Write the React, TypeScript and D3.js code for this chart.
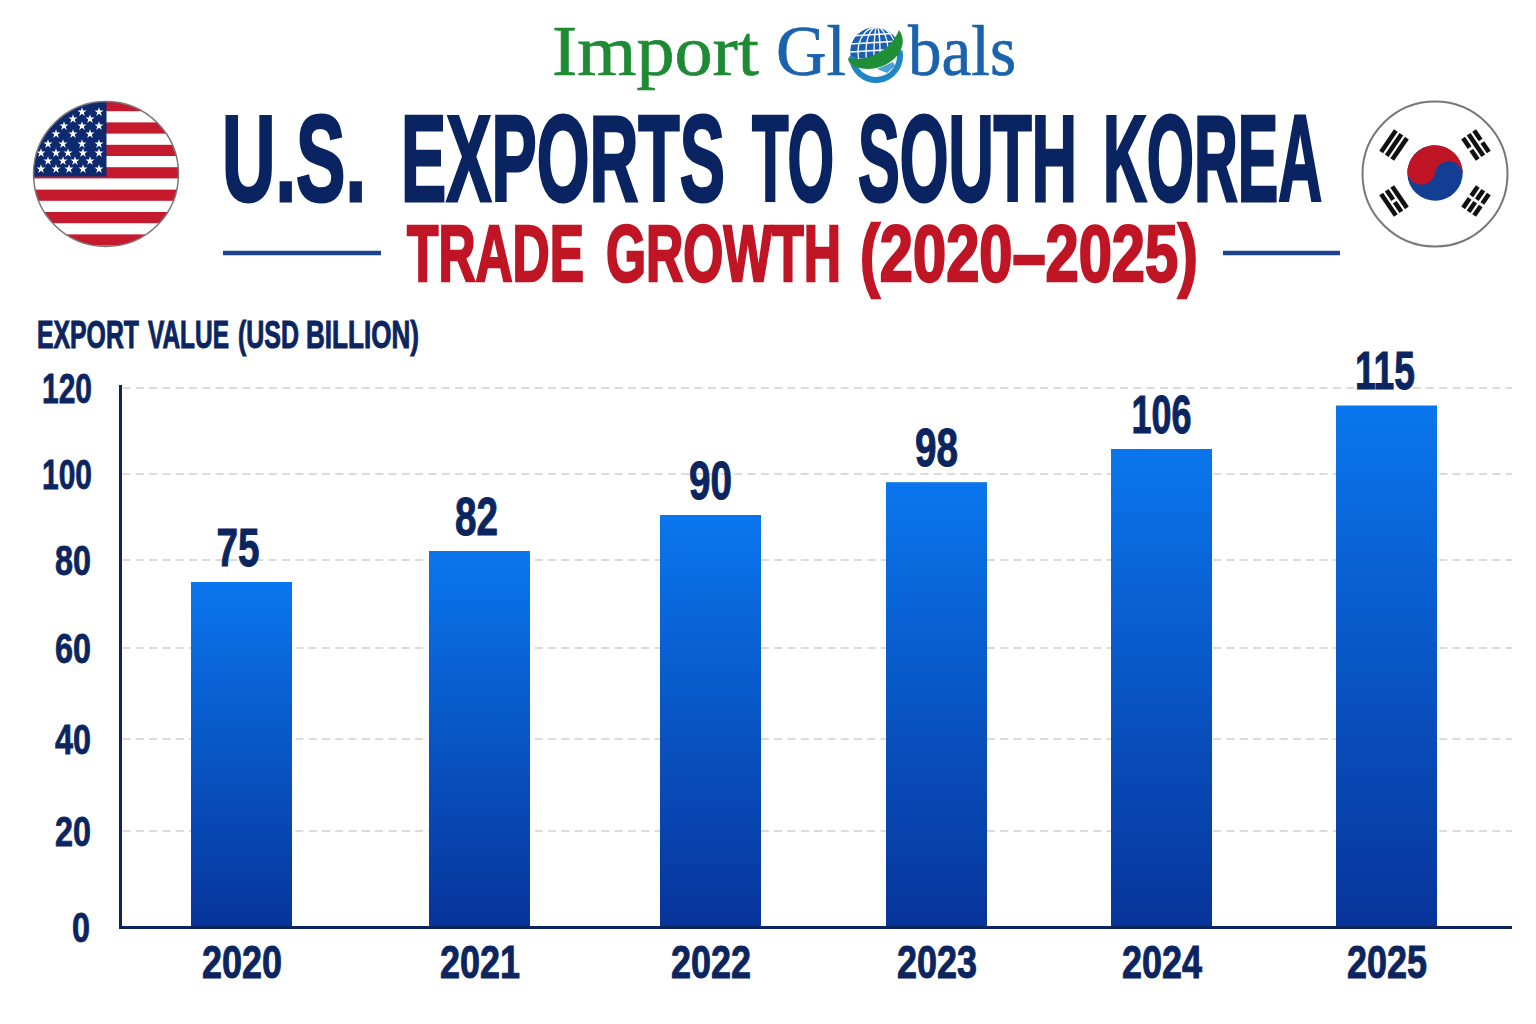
import { useEffect, useRef } from "react";
import * as d3 from "d3";

const years = ["2020", "2021", "2022", "2023", "2024", "2025"];
const exportValues = [75, 82, 90, 98, 106, 115];
const yTicks = [0, 20, 40, 60, 80, 100, 120];

// the picture's axis is uneven, so the scale goes through its measured rows
const scaleValues = [0, 20, 40, 60, 80, 90, 100, 106, 115, 120];
const scaleRows = [926.5, 831, 739, 648, 560, 515, 474, 449, 405.5, 388];
const barCenters = [241.5, 479.5, 710.5, 936.5, 1161.5, 1386.5];
const labelNudge = [-3.5, -3, 0, 0, 0, -1.5];

const titleWords: [string, number, number][] = [
  ["U.S.", 222, 144], ["EXPORTS", 401, 324], ["TO", 752, 82], ["SOUTH", 858, 219], ["KOREA", 1103, 219],
];
const subtitleWords: [string, number, number][] = [
  ["TRADE", 407, 177], ["GROWTH", 606, 235], ["(2020–2025)", 860, 338],
];
const axisTitleWords: [string, number, number][] = [
  ["EXPORT", 37, 102], ["VALUE", 148, 81], ["(USD", 238, 61], ["BILLION)", 306, 113],
];

const NAVY = "#0b2560";
const RED = "#bf1525";
const CONDENSED = "'Liberation Sans Narrow', 'Liberation Sans', Roboto, sans-serif";

type Sel = d3.Selection<SVGGElement, unknown, null, undefined>;

// text scaled to the width measured on the reference, stroke fattens the stems
function fitted(g: Sel, s: string, x: number, y: number, size: number, width: number, fill: string, anchor = "middle", fat = 0.8) {
  const t = g.append("text")
    .attr("font-family", CONDENSED).attr("font-weight", 700)
    .attr("font-size", size).attr("fill", fill)
    .attr("stroke", fill).attr("stroke-width", fat)
    .text(s);
  const natural = (t.node() as SVGTextElement).getComputedTextLength();
  const start = anchor === "middle" ? x - width / 2 : anchor === "end" ? x - width : x;
  t.attr("transform", `translate(${start},${y}) scale(${width / natural},1)`);
  return t;
}

function drawUsFlag(g: Sel, defs: d3.Selection<SVGDefsElement, unknown, null, undefined>) {
  const cx = 106, cy = 174, r = 72.5;
  defs.append("clipPath").attr("id", "usClip").append("circle").attr("cx", cx).attr("cy", cy).attr("r", r);
  const f = g.append("g").attr("clip-path", "url(#usClip)");
  f.append("rect").attr("x", cx - r).attr("y", cy - r).attr("width", 2 * r).attr("height", 2 * r).attr("fill", "#fff");
  d3.range(0, 13, 2).forEach((i) => {
    f.append("rect").attr("x", cx - r).attr("y", 100 + i * 11.2).attr("width", 2 * r).attr("height", 11.2).attr("fill", "#c5192d");
  });
  f.append("rect").attr("x", cx - r).attr("y", cy - r).attr("width", 73).attr("height", 75).attr("fill", "#0d2a6e");
  const star = d3.symbol().type(d3.symbolStar).size(26)();
  const stars: [number, number[]][] = [
    [112, [82, 99]],
    [119, [73, 90]],
    [126, [64, 82, 99]],
    [134, [56, 73, 90]],
    [144, [48, 63, 82, 99]],
    [153, [41, 56, 68, 83, 99]],
    [161, [48, 63, 75, 90]],
    [169, [41, 56, 69, 83, 99]],
  ];
  stars.forEach(([y, row]) => {
    row.forEach((x) => {
      f.append("path").attr("d", star).attr("fill", "#fff").attr("transform", `translate(${x},${y})`);
    });
  });
  g.append("circle").attr("cx", cx).attr("cy", cy).attr("r", r).attr("fill", "none").attr("stroke", "#777").attr("stroke-width", 1.5);
}

function drawKrFlag(g: Sel) {
  const cx = 1435, cy = 174, r = 72.5;
  g.append("circle").attr("cx", cx).attr("cy", cy).attr("r", r).attr("fill", "#fff").attr("stroke", "#777").attr("stroke-width", 2);
  const t = g.append("g").attr("transform", `translate(${cx},${cy - 1}) rotate(9)`);
  const R = 27.7;
  t.append("circle").attr("r", R).attr("fill", "#123f93");
  t.append("path").attr("fill", RED)
    .attr("d", `M${-R},0 A${R},${R} 0 0 1 ${R},0 A${R / 2},${R / 2} 0 0 0 0,0 A${R / 2},${R / 2} 0 0 1 ${-R},0 Z`);
  // trigrams: 3 bars each, split ones get a white gap
  const trigrams: [number, boolean[]][] = [
    [-55.7, [false, false, false]],
    [55.7, [true, false, true]],
    [124.3, [true, true, true]],
    [-124.3, [false, true, false]],
  ];
  trigrams.forEach(([angle, split]) => {
    const tg = g.append("g").attr("transform", `translate(${cx},${cy - 1}) rotate(${angle})`);
    split.forEach((s, i) => {
      const y = -58.6 + i * 6.7;
      tg.append("rect").attr("x", -13).attr("y", y).attr("width", 26).attr("height", 4.6).attr("fill", "#111");
      if (s) tg.append("rect").attr("x", -1.5).attr("y", y - 0.5).attr("width", 3).attr("height", 5.6).attr("fill", "#fff");
    });
  });
}

function drawLogo(g: Sel, defs: d3.Selection<SVGDefsElement, unknown, null, undefined>) {
  const serif = "'Liberation Serif', 'DejaVu Serif', serif";
  const word = (s: string, x: number, width: number, fill: string) => {
    const t = g.append("text").attr("font-family", serif).attr("font-size", 72)
      .attr("fill", fill).attr("stroke", fill).attr("stroke-width", 0.7).text(s);
    const natural = (t.node() as SVGTextElement).getComputedTextLength();
    t.attr("transform", `translate(${x},75) scale(${width / natural},1)`);
  };
  word("Import", 552, 207, "#1e8a34");
  word("Gl", 776, 70, "#1a62ad");
  word("bals", 908, 108, "#1a62ad");

  const cx = 875, cy = 52, r = 25;

  // globe with its grid
  defs.append("clipPath").attr("id", "globeClip").append("circle").attr("cx", cx).attr("cy", cy).attr("r", r);
  const globe = g.append("g").attr("clip-path", "url(#globeClip)");
  globe.append("circle").attr("cx", cx).attr("cy", cy).attr("r", r).attr("fill", "#1a5fb0");
  d3.range(-16, 20, 8).forEach((d) => {
    globe.append("line").attr("x1", cx - r).attr("x2", cx + r).attr("y1", cy + d).attr("y2", cy + d - 3).attr("stroke", "#fff").attr("stroke-width", 1.5);
  });
  [3, 11, 19].forEach((rx) => {
    globe.append("ellipse").attr("cx", cx + 2).attr("cy", cy).attr("rx", rx).attr("ry", r).attr("fill", "none").attr("stroke", "#fff").attr("stroke-width", 1.3);
  });
  // pale lower part under the swoosh
  g.append("path").attr("fill", "#fff")
    .attr("d", `M${cx - 24},${cy + 10} C${cx - 8},${cy + 16} ${cx + 12},${cy + 6} ${cx + 26},${cy - 6} L${cx + 26},${cy + 26} L${cx - 24},${cy + 26} Z`);
  // lower ring and a bit of land inside it
  const ring = d3.arc()({ innerRadius: 21, outerRadius: 27, startAngle: 1.35, endAngle: 4.7 });
  g.append("path").attr("d", ring).attr("transform", `translate(${cx + 1},${cy + 4})`).attr("fill", "#1f86c6");
  g.append("path").attr("fill", "#4aa3d8")
    .attr("d", `M${cx + 2},${cy + 17} L${cx + 18},${cy + 10} L${cx + 20},${cy + 14} L${cx + 12},${cy + 21} Z`);
  // swoosh
  g.append("path").attr("fill", "#1f8f36")
    .attr("d", `M${cx - 27},${cy + 6} C${cx - 12},${cy + 10} ${cx + 14},${cy + 2} ${cx + 24},${cy - 22} C${cx + 36},${cy - 6} ${cx + 18},${cy + 16} ${cx - 6},${cy + 17} C${cx - 18},${cy + 17} ${cx - 27},${cy + 13} ${cx - 27},${cy + 6} Z`);
}

export default function App() {
  const ref = useRef<SVGSVGElement>(null);

  useEffect(() => {
    const svg = d3.select(ref.current!);
    svg.selectAll("*").remove();
    const defs = svg.append("defs");
    const grad = defs.append("linearGradient").attr("id", "barFill").attr("x1", 0).attr("x2", 0).attr("y1", 0).attr("y2", 1);
    grad.append("stop").attr("offset", "0%").attr("stop-color", "#0a76ee");
    grad.append("stop").attr("offset", "100%").attr("stop-color", "#07349a");

    const root = svg.append("g") as unknown as Sel;

    drawLogo(root, defs);
    drawUsFlag(root, defs);
    drawKrFlag(root);

    // headings
    titleWords.forEach(([s, x, w]) => fitted(root, s, x, 200.5, 122, w, "#0a2462", "start", 3));
    subtitleWords.forEach(([s, x, w]) => fitted(root, s, x, 281, 79, w, RED, "start", 2.5));
    [[223, 381], [1223, 1340]].forEach(([a, b]) => {
      root.append("line").attr("x1", a).attr("x2", b).attr("y1", 253).attr("y2", 253).attr("stroke", "#1c4391").attr("stroke-width", 4.5);
    });
    axisTitleWords.forEach(([s, x, w]) => fitted(root, s, x, 348, 38, w, NAVY, "start", 1));

    // chart
    const y = d3.scaleLinear().domain(scaleValues).range(scaleRows);
    const x = d3.scaleOrdinal<string, number>().domain(years).range(barCenters);
    const barW = 101;
    const left = 120.5, right = 1512;

    root.append("g").selectAll("line").data(yTicks.slice(1)).join("line")
      .attr("x1", left + 2).attr("x2", right)
      .attr("y1", (d) => y(d)).attr("y2", (d) => y(d))
      .attr("stroke", "#cfcfcf").attr("stroke-width", 1.5).attr("stroke-dasharray", "8 5.3");

    root.append("g").selectAll("rect").data(exportValues).join("rect")
      .attr("x", (_, i) => x(years[i]) - barW / 2)
      .attr("y", (d) => y(d))
      .attr("width", barW)
      .attr("height", (d) => y(0) - y(d))
      .attr("fill", "url(#barFill)");

    exportValues.forEach((v, i) => {
      const s = String(v);
      fitted(root, s, x(years[i]) + labelNudge[i], y(v) - 16.5, 53, s.length === 3 ? 60 : 43, NAVY, "middle", 1);
      fitted(root, years[i], x(years[i]) + 0.5, 978, 47, 80, NAVY, "middle", 1);
    });

    yTicks.forEach((t) => {
      const s = String(t);
      const rightEdge = s.length === 3 ? 92 : s.length === 2 ? 91 : 90;
      fitted(root, s, rightEdge, y(t) + 15, 42, s.length === 3 ? 50 : s.length === 2 ? 36 : 18, NAVY, "end", 0.8);
    });

    root.append("line").attr("x1", left).attr("x2", left).attr("y1", 385).attr("y2", 929).attr("stroke", NAVY).attr("stroke-width", 3);
    root.append("line").attr("x1", left - 1).attr("x2", right).attr("y1", 927.5).attr("y2", 927.5).attr("stroke", NAVY).attr("stroke-width", 3);
  }, []);

  return (
    <svg ref={ref} width={1536} height={1024} viewBox="0 0 1536 1024"
      style={{ position: "absolute", left: 0, top: 0, background: "#fff" }} />
  );
}
